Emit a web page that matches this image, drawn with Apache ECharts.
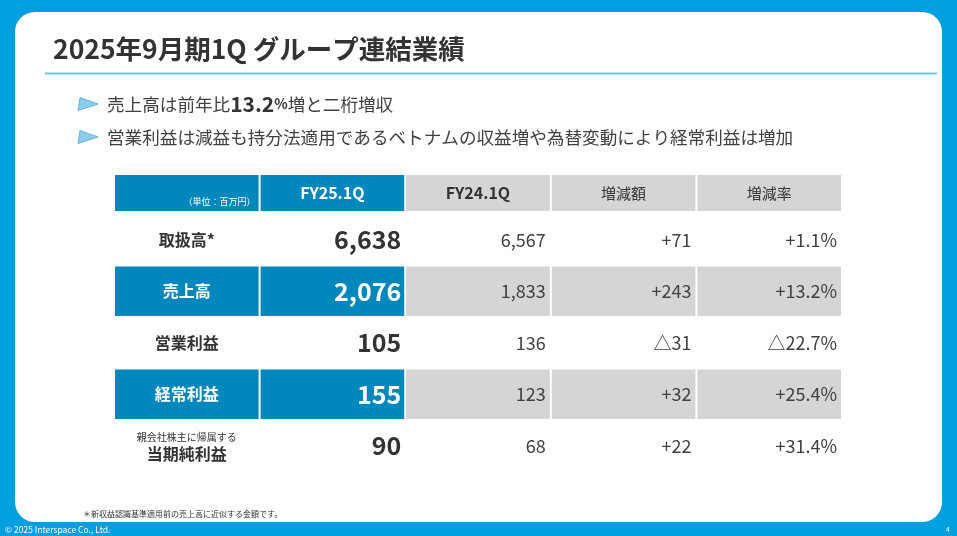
<!DOCTYPE html>
<html>
<head>
<meta charset="utf-8">
<script src="https://cdn.jsdelivr.net/npm/echarts@6/dist/echarts.min.js"></script>
<style>
html,body{margin:0;padding:0;background:#00A0E0;}
#chart{width:957px;height:536px;}
</style>
</head>
<body>
<div id="chart"></div>
<script>
// ---- data ----
const columns = ['', 'FY25.1Q', 'FY24.1Q', '増減額', '増減率'];
const unitLabel = '（単位：百万円）';
const rowLabels = ['取扱高*', '売上高', '営業利益', '経常利益', '当期純利益'];
const rowSubLabels = ['', '', '', '', '親会社株主に帰属する'];
const fy25 = [6638, 2076, 105, 155, 90];
const fy24 = [6567, 1833, 136, 123, 68];
const change = [71, 243, -31, 32, 22];
const changeRate = [1.1, 13.2, -22.7, 25.4, 31.4];
const highlightRows = [1, 3];

const titleText = '2025年9月期1Q グループ連結業績';
const bullet1 = ['売上高は前年比', '13.2', '%', '増と二桁増収'];
const bullet2 = '営業利益は減益も持分法適用であるベトナムの収益増や為替変動により経常利益は増加';
const footnote = '＊新収益認識基準適用前の売上高に近似する金額です。';
const copyright = '© 2025 Interspace Co., Ltd.';
const pageNo = '4';

// ---- styling ----
const FONT = '"Noto Sans CJK JP", "Noto Sans", sans-serif';
const BLUE = '#0088BC';
const GRAY = '#D5D5D5';
const DARK = '#333333';
const TXT = '#404040';

function fmtNum(v) { return v.toLocaleString('en-US'); }
function fmtSigned(v) { return (v < 0 ? '△' : '+') + fmtNum(Math.abs(v)); }
function fmtRate(v) { return (v < 0 ? '△' : '+') + Math.abs(v).toFixed(1) + '%'; }

// header cells
const headerCells = columns.map((name, ci) => {
  const blue = ci < 2;
  const cell = { col: ci, row: 0, fill: blue ? BLUE : GRAY, texts: [] };
  if (ci === 0) {
    cell.texts.push({ text: unitLabel, color: '#ffffff', size: 9, weight: 'normal', align: 'right', pad: 4, dy: 9 });
  } else {
    const bold = ci < 3;
    cell.texts.push({ text: name, color: blue ? '#ffffff' : DARK, size: bold ? 16 : 15, weight: bold ? 'bold' : 'normal', align: 'center' });
  }
  return cell;
});

// body cells
const bodyCells = [];
rowLabels.forEach((lab, ri) => {
  const hl = highlightRows.indexOf(ri) >= 0;
  const light = hl ? '#ffffff' : DARK;
  const labelCell = { col: 0, row: ri, fill: hl ? BLUE : null, texts: [] };
  if (rowSubLabels[ri]) {
    labelCell.texts.push({ text: rowSubLabels[ri], color: light, size: 10, weight: 'normal', align: 'center', dy: -9 });
    labelCell.texts.push({ text: lab, color: light, size: 16, weight: 'bold', align: 'center', dy: 8 });
  } else {
    labelCell.texts.push({ text: lab, color: light, size: 16, weight: 'bold', align: 'center' });
  }
  bodyCells.push(labelCell);
  bodyCells.push({ col: 1, row: ri, fill: hl ? BLUE : null, texts: [{ text: fmtNum(fy25[ri]), color: light, size: 25, weight: 'bold', align: 'right', pad: 4 }] });
  bodyCells.push({ col: 2, row: ri, fill: hl ? GRAY : null, texts: [{ text: fmtNum(fy24[ri]), color: TXT, size: 18, weight: 'normal', align: 'right', pad: 5 }] });
  bodyCells.push({ col: 3, row: ri, fill: hl ? GRAY : null, texts: [{ text: fmtSigned(change[ri]), color: TXT, size: 18, weight: 'normal', align: 'right', pad: 5 }] });
  bodyCells.push({ col: 4, row: ri, fill: hl ? GRAY : null, texts: [{ text: fmtRate(changeRate[ri]), color: TXT, size: 18, weight: 'normal', align: 'right', pad: 5 }] });
});

function makeRender(cells) {
  return function (params, api) {
    const c = cells[params.dataIndex];
    const p = api.coord([api.value(0), api.value(1)]);
    const s = api.size([1, 1]);
    const w = s[0], h = s[1];
    const x0 = p[0] - w / 2, y0 = p[1] - h / 2;
    const children = [];
    if (c.fill) {
      children.push({ type: 'rect', shape: { x: x0 + 1, y: y0 + 1, width: w - 2, height: h - 2 }, style: { fill: c.fill } });
    }
    c.texts.forEach(t => {
      const tx = t.align === 'right' ? x0 + w - t.pad : (t.align === 'left' ? x0 + t.pad : x0 + w / 2);
      children.push({
        type: 'text', x: tx, y: p[1] + (t.dy || 0),
        style: { text: t.text, fill: t.color, fontSize: t.size, fontWeight: t.weight, fontFamily: FONT,
                 align: t.align, verticalAlign: 'middle', textAlign: t.align, textVerticalAlign: 'middle' }
      });
    });
    return { type: 'group', children };
  };
}

const chart = echarts.init(document.getElementById('chart'), null, { renderer: 'canvas' });
chart.setOption({
  backgroundColor: '#00A0E0',
  animation: false,
  grid: [
    { left: 114, top: 174, width: 728, height: 38 },
    { left: 114, top: 214, width: 728, height: 257.5 }
  ],
  xAxis: [
    { type: 'category', gridIndex: 0, data: columns.map((c, i) => 'c' + i), show: false },
    { type: 'category', gridIndex: 1, data: columns.map((c, i) => 'c' + i), show: false }
  ],
  yAxis: [
    { type: 'category', gridIndex: 0, data: ['header'], show: false },
    { type: 'category', gridIndex: 1, data: rowLabels, inverse: true, show: false }
  ],
  graphic: [
    { type: 'rect', shape: { x: 15, y: 12, width: 927, height: 510, r: 20 }, style: { fill: '#ffffff' } },
    { type: 'text', x: 53, y: 49, style: { text: titleText, fill: DARK, fontSize: 26.5, fontWeight: 'bold', fontFamily: FONT, verticalAlign: 'middle', textVerticalAlign: 'middle' } },
    { type: 'line', shape: { x1: 45, y1: 73.5, x2: 937, y2: 73.5 }, style: { stroke: '#6CCBEA', lineWidth: 2 } },
    { type: 'polygon', shape: { points: [[80, 97.5], [98, 104], [78, 110.5]] }, style: { fill: '#8DCDEC', stroke: '#62B5DD', lineWidth: 1 } },
    { type: 'polygon', shape: { points: [[80, 130.5], [98, 137], [78, 143.5]] }, style: { fill: '#8DCDEC', stroke: '#62B5DD', lineWidth: 1 } },
    { type: 'text', x: 107, y: 104, style: {
        text: bullet1[0] + '{b|' + bullet1[1] + '}{p|' + bullet1[2] + '}' + bullet1[3],
        fill: TXT, fontSize: 17.6, fontFamily: FONT, verticalAlign: 'middle', textVerticalAlign: 'middle',
        rich: {
          b: { fontSize: 21, fontWeight: 'bold', fill: DARK, fontFamily: FONT },
          p: { fontSize: 14, fontWeight: 'bold', fill: DARK, fontFamily: FONT }
        } } },
    { type: 'text', x: 107, y: 137, style: { text: bullet2, fill: TXT, fontSize: 17.6, fontFamily: FONT, verticalAlign: 'middle', textVerticalAlign: 'middle' } },
    { type: 'text', x: 83, y: 514, style: { text: footnote, fill: DARK, fontSize: 8, fontFamily: FONT, verticalAlign: 'middle', textVerticalAlign: 'middle' } },
    { type: 'text', x: 5, y: 530, style: { text: copyright, fill: '#ffffff', fontSize: 8.5, fontFamily: FONT, verticalAlign: 'middle', textVerticalAlign: 'middle' } },
    { type: 'text', x: 946, y: 529, style: { text: pageNo, fill: '#ffffff', fontSize: 7, fontFamily: FONT, verticalAlign: 'middle', textVerticalAlign: 'middle' } }
  ],
  series: [
    { type: 'custom', xAxisIndex: 0, yAxisIndex: 0, data: headerCells.map(c => [c.col, c.row]), renderItem: makeRender(headerCells), silent: true },
    { type: 'custom', xAxisIndex: 1, yAxisIndex: 1, data: bodyCells.map(c => [c.col, c.row]), renderItem: makeRender(bodyCells), silent: true }
  ]
});
</script>
</body>
</html>
